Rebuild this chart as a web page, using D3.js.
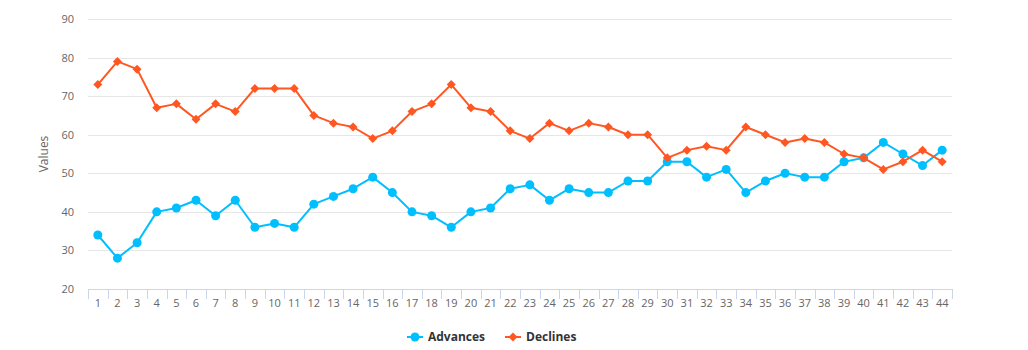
<!DOCTYPE html>
<html>
<head>
<meta charset="utf-8">
<script src="https://cdn.jsdelivr.net/npm/d3@7"></script>
<style>
  html, body { margin: 0; padding: 0; background: #fff; }
  svg { display: block; font-family: "Open Sans", "DejaVu Sans", sans-serif; }
</style>
</head>
<body>
<svg id="chart" width="1028" height="350"></svg>
<script>
const categories = Array.from({length: 44}, (_, i) => String(i + 1));
const advances = [34, 28, 32, 40, 41, 43, 39, 43, 36, 37, 36, 42, 44, 46, 49, 45, 40, 39, 36, 40, 41, 46, 47, 43, 46, 45, 45, 48, 48, 53, 53, 49, 51, 45, 48, 50, 49, 49, 53, 54, 58, 55, 52, 56];
const declines = [73, 79, 77, 67, 68, 64, 68, 66, 72, 72, 72, 65, 63, 62, 59, 61, 66, 68, 73, 67, 66, 61, 59, 63, 61, 63, 62, 60, 60, 54, 56, 57, 56, 62, 60, 58, 59, 58, 55, 54, 51, 53, 56, 53];
const yTicks = [20, 30, 40, 50, 60, 70, 80, 90];
const seriesNames = ["Advances", "Declines"];
const seriesColors = ["#00bfff", "#ff5722"];

const svg = d3.select("#chart");
const plotLeft = 88, plotRight = 952, plotTop = 19, plotBottom = 289;

const x = d3.scaleBand().domain(categories).range([plotLeft, plotRight]);
const y = d3.scaleLinear().domain([20, 90]).range([plotBottom, plotTop]);

// gridlines
svg.append("g").selectAll("line").data(yTicks).join("line")
  .attr("x1", plotLeft).attr("x2", plotRight)
  .attr("y1", d => Math.round(y(d)) + 0.5).attr("y2", d => Math.round(y(d)) + 0.5)
  .attr("stroke", "#e6e6e6").attr("stroke-width", 1);

// y axis labels
svg.append("g").selectAll("text").data(yTicks).join("text")
  .attr("x", 74).attr("y", d => y(d) + 4)
  .attr("text-anchor", "end")
  .attr("font-size", 11).attr("fill", "#666")
  .text(d => d);

// y axis title
svg.append("text")
  .attr("transform", `translate(48,${(plotTop + plotBottom) / 2}) rotate(-90)`)
  .attr("text-anchor", "middle")
  .attr("font-size", 12).attr("fill", "#666")
  .text("Values");

// x axis
const xAxis = svg.append("g");
xAxis.append("line")
  .attr("x1", plotLeft).attr("x2", plotRight)
  .attr("y1", plotBottom + 0.5).attr("y2", plotBottom + 0.5)
  .attr("stroke", "#ccd6eb");
const tickPos = categories.map(c => x(c)).concat([plotRight]);
xAxis.selectAll("line.tick").data(tickPos).join("line")
  .attr("class", "tick")
  .attr("x1", d => Math.round(d) + 0.5).attr("x2", d => Math.round(d) + 0.5)
  .attr("y1", plotBottom).attr("y2", plotBottom + 10)
  .attr("stroke", "#ccd6eb");
xAxis.selectAll("text").data(categories).join("text")
  .attr("x", d => x(d) + x.bandwidth() / 2)
  .attr("y", plotBottom + 18)
  .attr("text-anchor", "middle")
  .attr("font-size", 11).attr("fill", "#666")
  .text(d => d);

const line = d3.line()
  .x((d, i) => x(categories[i]) + x.bandwidth() / 2)
  .y(d => y(d));

const dr = 4.5;
const diamondPath = `M0,${-dr}L${dr},0L0,${dr}L${-dr},0Z`;

function drawSeries(data, color, kind) {
  const g = svg.append("g");
  g.append("path").datum(data)
    .attr("d", line).attr("fill", "none")
    .attr("stroke", color).attr("stroke-width", 2)
    .attr("stroke-linejoin", "round");
  if (kind === "circle") {
    g.selectAll("circle").data(data).join("circle")
      .attr("cx", (d, i) => x(categories[i]) + x.bandwidth() / 2)
      .attr("cy", d => y(d)).attr("r", 4.5)
      .attr("fill", color);
  } else {
    g.selectAll("path.m").data(data).join("path")
      .attr("class", "m")
      .attr("transform", (d, i) => `translate(${x(categories[i]) + x.bandwidth() / 2},${y(d)})`)
      .attr("d", diamondPath)
      .attr("fill", color);
  }
}
drawSeries(advances, seriesColors[0], "circle");
drawSeries(declines, seriesColors[1], "diamond");

// legend
const legend = svg.append("g");
const legendItems = [
  {name: seriesNames[0], color: seriesColors[0], kind: "circle", x: 407},
  {name: seriesNames[1], color: seriesColors[1], kind: "diamond", x: 505}
];
const ly = 337;
legendItems.forEach(it => {
  legend.append("line")
    .attr("x1", it.x).attr("x2", it.x + 16)
    .attr("y1", ly).attr("y2", ly)
    .attr("stroke", it.color).attr("stroke-width", 2);
  if (it.kind === "circle") {
    legend.append("circle").attr("cx", it.x + 8).attr("cy", ly).attr("r", 4.5).attr("fill", it.color);
  } else {
    legend.append("path").attr("transform", `translate(${it.x + 8},${ly})`).attr("d", diamondPath).attr("fill", it.color);
  }
  legend.append("text")
    .attr("x", it.x + 21).attr("y", ly + 4)
    .attr("font-size", 12).attr("font-weight", "bold").attr("fill", "#333")
    .text(it.name);
});
</script>
</body>
</html>
